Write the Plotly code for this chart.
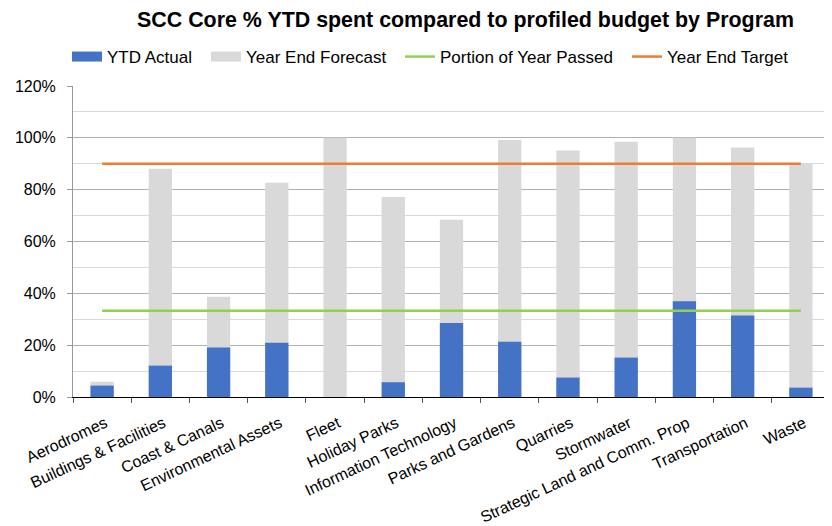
import plotly.graph_objects as go

categories = ["Aerodromes", "Buildings & Facilities", "Coast & Canals", "Environmental Assets",
              "Fleet", "Holiday Parks", "Information Technology", "Parks and Gardens",
              "Quarries", "Stormwater", "Strategic Land and Comm. Prop", "Transportation", "Waste"]
ytd_actual = [4.4, 12.1, 19.1, 20.9, 0.0, 5.7, 28.6, 21.3, 7.5, 15.2, 36.9, 31.4, 3.6]
year_end_forecast = [5.9, 88.1, 38.7, 82.7, 100.0, 77.2, 68.4, 99.2, 95.1, 98.5, 100.0, 96.3, 90.0]
portion_of_year = [33.3] * len(categories)
year_end_target = [90.0] * len(categories)
y_ticks = [0, 20, 40, 60, 80, 100, 120]
y_tick_labels = [f"{v}%" for v in y_ticks]

FONT = "Liberation Sans, Arial, sans-serif"
BLUE, GRAY, GREEN, ORANGE = "#4472C4", "#D9D9D9", "#92D050", "#ED7D31"

# page body has an 8px margin; figure sized to fit the window exactly
W, H = 824, 518
OFF = 8
PL, PR, PT, PB = 73 - OFF, 830 - OFF, 86 - OFF, 397 - OFF
PW, PH = PR - PL, PB - PT

fig = go.Figure()
fig.add_trace(go.Bar(x=categories, y=year_end_forecast, name="Year End Forecast",
                     marker=dict(color=GRAY, line=dict(width=0)), width=0.4, showlegend=False))
fig.add_trace(go.Bar(x=categories, y=ytd_actual, name="YTD Actual",
                     marker=dict(color=BLUE, line=dict(width=0)), width=0.4, showlegend=False))
fig.add_trace(go.Scatter(x=categories, y=portion_of_year, name="Portion of Year Passed",
                         mode="lines", line=dict(color=GREEN, width=2.5), legend="legend3"))
fig.add_trace(go.Scatter(x=categories, y=year_end_target, name="Year End Target",
                         mode="lines", line=dict(color=ORANGE, width=2.5), legend="legend4"))
# legend keys for bars (rectangular swatches)
fig.add_trace(go.Scatter(x=[None], y=[None], name="YTD Actual", mode="lines",
                         line=dict(color=BLUE, width=10), legend="legend"))
fig.add_trace(go.Scatter(x=[None], y=[None], name="Year End Forecast", mode="lines",
                         line=dict(color=GRAY, width=10), legend="legend2"))

legend_text_starts = [107, 246, 440, 667]  # window px
legend_y = 1 + (PT - (57 - OFF)) / PH
legends = {}
for i, xs in enumerate(legend_text_starts):
    key = "legend" if i == 0 else f"legend{i + 1}"
    legends[key] = dict(orientation="h", x=((xs - OFF) - 40 - PL) / PW, xanchor="left",
                        y=legend_y, yanchor="middle", font=dict(family=FONT, size=17),
                        bgcolor="rgba(0,0,0,0)", borderwidth=0, itemwidth=30)

fig.update_layout(
    width=W, height=H,
    barmode="overlay",
    paper_bgcolor="white", plot_bgcolor="white",
    margin=dict(l=PL, r=W - PR, t=PT, b=H - PB, autoexpand=False),
    font=dict(family=FONT, size=16, color="#000000"),
    title=dict(text="<b>SCC Core % YTD spent compared to profiled budget by Program</b>",
               x=((138 + 793) / 2 - OFF) / W, xanchor="center", y=1 - (19 - OFF) / H,
               yanchor="middle", yref="container",
               font=dict(family=FONT, size=21.4, color="#000000")),
    **legends,
    xaxis=dict(
        tickmode="array", tickvals=categories, ticktext=categories,
        tickangle=-25, tickfont=dict(family=FONT, size=16),
        showline=True, linecolor="#000000", linewidth=1,
        ticks="outside", tickson="boundaries", ticklen=5, tickcolor="#555555",
        ticklabelstandoff=10, ticklabelshift=3,
        showgrid=False,
    ),
    yaxis=dict(
        range=[0, 120], tickmode="array", tickvals=y_ticks, ticktext=y_tick_labels,
        tickfont=dict(family=FONT, size=16),
        showline=True, linecolor="#999999", linewidth=1,
        ticks="outside", ticklen=5, tickcolor="#999999", ticklabelstandoff=8,
        showgrid=True, gridcolor="#B0B0B0", gridwidth=1,
        minor=dict(dtick=10, showgrid=True, gridcolor="#D9D9D9", gridwidth=1),
        zeroline=False,
    ),
)

fig.write_html("out.html")
